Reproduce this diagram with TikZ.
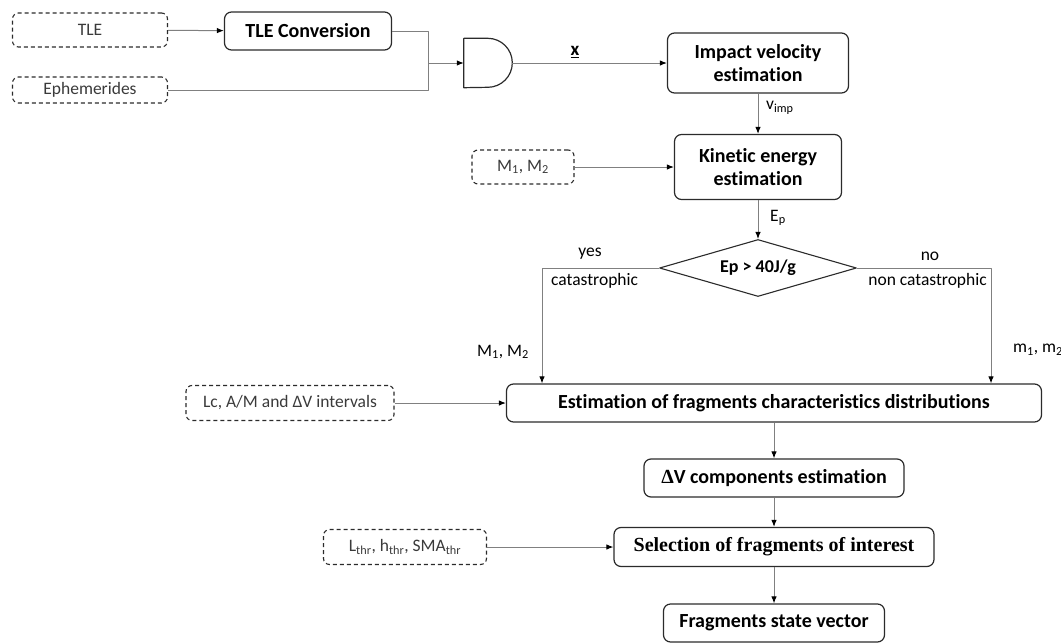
\documentclass[tikz,border=0pt]{standalone}
\usepackage{fontspec}
\setmainfont{Carlito}[Ligatures=NoCommon]
\newfontfamily\timesfont{Liberation Serif}
\usetikzlibrary{arrows.meta,shapes.geometric}
\definecolor{linegray}{HTML}{808080}
\definecolor{boxgray}{HTML}{2B2B2B}
\definecolor{txtgray}{HTML}{3A3A3A}
\tikzset{
  every picture/.style={line join=round, >={Latex[length=7pt,width=5.5pt,color=black]}},
  process/.style={draw=boxgray, line width=1.2pt, rounded corners=7pt, align=center, inner sep=0pt, font=\fontsize{20}{23}\selectfont\bfseries},
  inbox/.style={draw=boxgray, line width=1.1pt, dash pattern=on 4pt off 3pt, rounded corners=6pt, inner sep=0pt, text=txtgray, font=\fontsize{17.5}{20}\selectfont},
  decision/.style={draw=boxgray, line width=1.1pt, diamond, aspect=3.4, inner sep=0pt, font=\fontsize{18}{20}\selectfont\bfseries},
  link/.style={draw=linegray, line width=1pt},
  lbl/.style={inner sep=0pt, font=\fontsize{17.5}{20}\selectfont},
}

\begin{document}
\begin{tikzpicture}[x=1pt,y=-1pt]
\useasboundingbox (0,0) rectangle (1061,643);
% inputs and processes
\node[inbox,minimum width=155pt,minimum height=34pt] (tle) at (90,30) {TLE};
\node[inbox,minimum width=155pt,minimum height=26pt] (ephem) at (90,90) {Ephemerides};
\node[process,minimum width=167pt,minimum height=38pt] (tleconv) at (308,31) {TLE Conversion};
\node[minimum width=48pt,minimum height=49pt,inner sep=0pt] (gate) at (488,63) {};
\draw[draw=boxgray,line width=1.2pt] (gate.north west) -- ++(24,0) arc[start angle=-90,end angle=90,radius=24.5] -- (gate.south west) -- cycle;
\node[process,minimum width=181pt,minimum height=60pt] (impact) at (758,63) {Impact velocity\\estimation};
\node[process,minimum width=167pt,minimum height=65pt] (kinetic) at (758,167) {Kinetic energy\\estimation};
\node[inbox,minimum width=102pt,minimum height=34pt] (mass) at (523,167) {M\textsubscript{1}, M\textsubscript{2}};
\node[decision,minimum width=197pt,minimum height=57pt] (dec) at (758,268) {Ep > 40J/g};
\node[process,minimum width=535pt,minimum height=38pt] (estim) at (774,403) {Estimation of fragments characteristics distributions};
\node[inbox,minimum width=208pt,minimum height=35pt] (lc) at (290,403) {Lc, A/M and ΔV intervals};
\node[process,minimum width=260pt,minimum height=38pt] (dv) at (774,478) {{\timesfont Δ}V components estimation};
\node[process,minimum width=320pt,minimum height=39pt,font=\fontsize{20}{23}\timesfont\bfseries] (sel) at (774,547) {Selection of fragments of interest};
\node[inbox,minimum width=163pt,minimum height=35pt] (lthr) at (405,547) {L\textsubscript{thr}, h\textsubscript{thr}, SMA\textsubscript{thr}};
\node[process,minimum width=221pt,minimum height=38pt] (frag) at (774,623) {Fragments state vector};
% connectors
\coordinate (junc) at (428,63);
\coordinate (ycorner) at (542,268);
\coordinate (ncorner) at (991,268);
\draw[link,->] (tle) -- (tleconv);
\draw[link] (tleconv.east) -| (junc) (ephem.east) -| (junc);
\draw[link,->] (junc) -- (gate.west);
\draw[link,->] (gate.east) -- (impact.west |- gate.east);
\draw[link,->] (impact) -- (kinetic);
\draw[link,->] (mass) -- (kinetic);
\draw[link,->] (kinetic) -- (dec);
\draw[link,->] (dec.west) -- (ycorner) -- (ycorner |- estim.north);
\draw[link,->] (dec.east) -- (ncorner) -- (ncorner |- estim.north);
\draw[link,->] (lc) -- (estim);
\draw[link,->] (lthr) -- (sel);
\foreach \a/\b in {estim/dv,dv/sel,sel/frag}{\draw[link,->] (\a) -- (\b);}
% labels
\node[lbl,font=\fontsize{19}{20}\selectfont\bfseries] (xlbl) at (575,52) {\underline{x}};
\node[lbl,anchor=west] (vimp) at (766,108) {v\textsubscript{imp}};
\node[lbl,anchor=west] (ep) at (770,218) {E\textsubscript{p}};
\node[lbl] (yes) at (590,254) {yes};
\node[lbl,anchor=west] (cat) at (551,281) {catastrophic};
\node[lbl] (no) at (930,256) {no};
\node[lbl,anchor=east] (ncat) at (987,281) {non catastrophic};
\node[lbl] (mcat) at (503,352) {M\textsubscript{1}, M\textsubscript{2}};
\node[lbl,anchor=west] (mnon) at (1013,350) {m\textsubscript{1}, m\textsubscript{2}};
\end{tikzpicture}
\end{document}
